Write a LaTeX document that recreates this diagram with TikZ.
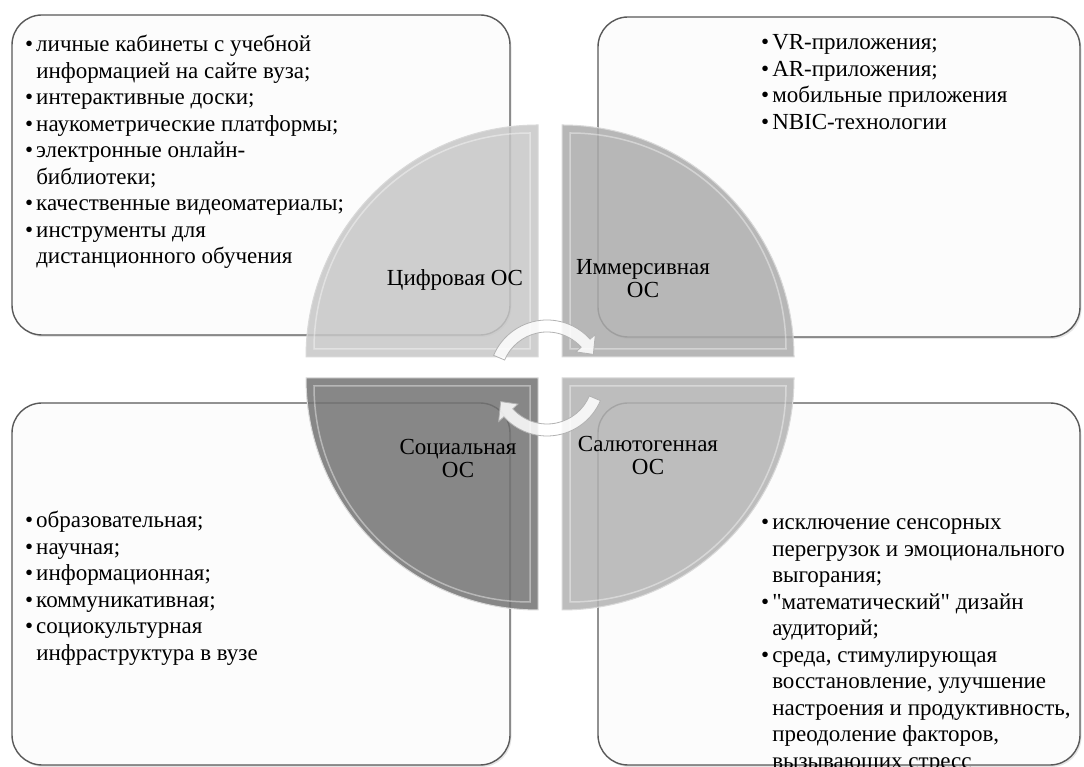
\documentclass[tikz,border=0pt]{standalone}
\usepackage{fontspec}
\setmainfont{Liberation Serif}
\usetikzlibrary{shadows}
\tikzset{info box/.style={draw=black!65,line width=1.4pt,fill=black!1,rounded corners=30pt,inner sep=0pt,
		drop shadow={opacity=0.2,shadow xshift=1.5pt,shadow yshift=-2pt}},
	pie/.style={draw=white!85!black,line width=1pt,fill opacity=0.85},
	pie bevel/.style={draw=white,line width=1.5pt,opacity=0.4},
	pie label/.style={align=center,inner sep=0pt,font=\fontsize{23}{23}\selectfont},
	item list/.style={anchor=north west,inner sep=0pt,align=left,font=\fontsize{23}{26.5}\selectfont},
	cycle arrow/.style={fill=white,fill opacity=0.85,draw=black!30,line width=0.8pt},
}

\begin{document}
\begin{tikzpicture}[x=1pt,y=1pt]
	\useasboundingbox[fill=white] (0,0) rectangle (1084,767);
	
	% boxes
	\node[info box,minimum width=498pt,minimum height=320pt] (digibox) at (261,592) {};
	\node[info box,minimum width=482pt,minimum height=320pt] (immbox) at (839,590) {};
	\node[info box,minimum width=498pt,minimum height=362pt] (socbox) at (261,183) {};
	\node[info box,minimum width=482pt,minimum height=362pt] (salbox) at (839,183) {};
	
	% quarters
	\path[pie,fill=black!22] (538,410) -- (306,410) arc[start angle=180,end angle=90,radius=232] -- cycle;
	\path[pie,fill=black!33] (562,410) -- (562,642) arc[start angle=90,end angle=0,radius=232] -- cycle;
	\path[pie,fill=black!55] (538,389) -- (538,157) arc[start angle=270,end angle=180,radius=232] -- cycle;
	\path[pie,fill=black!30] (562,389) -- (794,389) arc[start angle=0,end angle=-90,radius=232] -- cycle;
	\draw[pie bevel] (530,418) -- (314,418) arc[start angle=180,end angle=90,radius=216] -- cycle;
	\draw[pie bevel] (570,418) -- (570,634) arc[start angle=90,end angle=0,radius=216] -- cycle;
	\draw[pie bevel] (530,381) -- (530,165) arc[start angle=270,end angle=180,radius=216] -- cycle;
	\draw[pie bevel] (570,381) -- (786,381) arc[start angle=0,end angle=-90,radius=216] -- cycle;
	
	% arrows in the middle
	\begin{scope}[shift={(547,389)}]
		\path[cycle arrow] (157:58) arc[start angle=157,end angle=42,radius=58] -- (42:65) -- (27:52)
		-- (42:39) -- (42:46) arc[start angle=42,end angle=157,radius=46] -- cycle;
		\path[cycle arrow] (-23:58) arc[start angle=-23,end angle=-138,radius=58] -- (-138:65) -- (-153:52)
		-- (-138:39) -- (-138:46) arc[start angle=-138,end angle=-23,radius=46] -- cycle;
	\end{scope}
	
	% labels
	\node[pie label] (digi) at (455,487) {Цифровая ОС};
	\node[pie label] (imm) at (643,488) {Иммерсивная\\ОС};
	\node[pie label] (soc) at (458,308) {Социальная\\ОС};
	\node[pie label] (sal) at (648,311) {Салютогенная\\ОС};
	
	% lists
	\node[item list] (digilist) at (25,734) {\begin{tabular}{@{}l@{\hspace{3pt}}l@{}}
		\textbullet & личные кабинеты с учебной\\
		& информацией на сайте вуза;\\
		\textbullet & интерактивные доски;\\
		\textbullet & наукометрические платформы;\\
		\textbullet & электронные онлайн-\\
		& библиотеки;\\
		\textbullet & качественные видеоматериалы;\\
		\textbullet & инструменты для\\
		& дистанционного обучения
	\end{tabular}};
	\node[item list] (immlist) at (761,736) {\begin{tabular}{@{}l@{\hspace{3pt}}l@{}}
		\textbullet & VR-приложения;\\
		\textbullet & AR-приложения;\\
		\textbullet & мобильные приложения\\
		\textbullet & NBIC-технологии
	\end{tabular}};
	\node[item list] (soclist) at (25,258) {\begin{tabular}{@{}l@{\hspace{3pt}}l@{}}
		\textbullet & образовательная;\\
		\textbullet & научная;\\
		\textbullet & информационная;\\
		\textbullet & коммуникативная;\\
		\textbullet & социокультурная\\
		& инфраструктура в вузе
	\end{tabular}};
	\node[item list] (sallist) at (761,256) {\begin{tabular}{@{}l@{\hspace{3pt}}l@{}}
		\textbullet & исключение сенсорных\\
		& перегрузок и эмоционального\\
		& выгорания;\\
		\textbullet & \textquotedbl математический\textquotedbl{} дизайн\\
		& аудиторий;\\
		\textbullet & среда, стимулирующая\\
		& восстановление, улучшение\\
		& настроения и продуктивность,\\
		& преодоление факторов,\\
		& вызывающих стресс
	\end{tabular}};
\end{tikzpicture}
\end{document}
